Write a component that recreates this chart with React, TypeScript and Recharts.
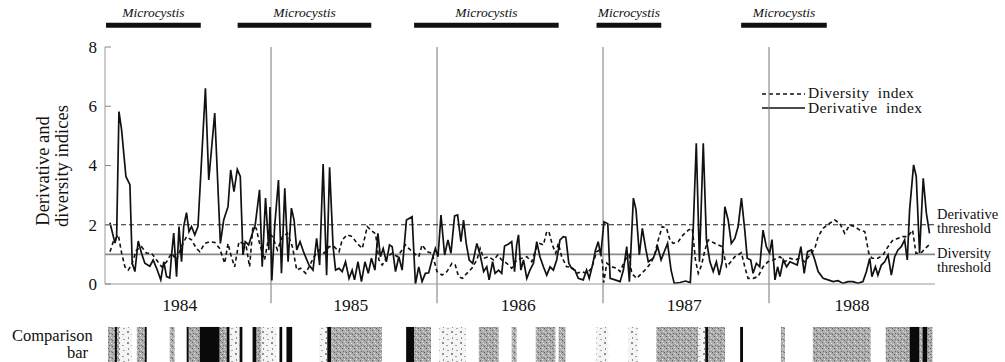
import React from 'react';
import { LineChart, Line, XAxis, YAxis, ReferenceLine, ReferenceArea } from 'recharts';

const yearLabels = ['1984', '1985', '1986', '1987', '1988'];
const yearTickPos = [0.45, 1.48, 2.49, 3.49, 4.5];
const yearBoundaries = [1, 2, 3, 4];
const yTicks = [0, 2, 4, 6, 8];
const derivThreshold = 2;
const divThreshold = 1;

const derivTime = [0.030,0.060,0.070,0.084,0.100,0.126,0.150,0.164,0.180,0.200,0.220,0.240,0.270,0.290,0.311,0.336,0.354,0.371,0.390,0.401,0.414,0.431,0.446,0.461,0.474,0.491,0.506,0.521,0.541,0.560,0.605,0.625,0.661,0.695,0.715,0.741,0.757,0.777,0.797,0.815,0.831,0.845,0.865,0.885,0.905,0.931,0.947,0.967,0.987,0.994,1.005,1.022,1.045,1.063,1.083,1.103,1.123,1.139,1.155,1.175,1.199,1.229,1.253,1.275,1.293,1.314,1.335,1.353,1.374,1.389,1.410,1.429,1.449,1.470,1.489,1.503,1.524,1.545,1.566,1.586,1.605,1.626,1.644,1.659,1.676,1.695,1.714,1.730,1.750,1.770,1.790,1.816,1.850,1.870,1.890,1.910,1.930,1.950,1.970,1.990,2.006,2.024,2.046,2.066,2.084,2.106,2.124,2.144,2.160,2.176,2.194,2.215,2.240,2.260,2.281,2.300,2.314,2.335,2.350,2.371,2.390,2.407,2.431,2.450,2.467,2.480,2.491,2.505,2.521,2.541,2.560,2.581,2.601,2.620,2.641,2.661,2.681,2.701,2.721,2.741,2.761,2.776,2.794,2.811,2.831,2.851,2.881,2.901,2.917,2.937,2.955,2.971,2.986,3.006,3.029,3.043,3.073,3.103,3.123,3.143,3.159,3.183,3.199,3.219,3.237,3.257,3.273,3.303,3.329,3.350,3.369,3.389,3.410,3.429,3.464,3.497,3.526,3.544,3.562,3.581,3.604,3.623,3.644,3.664,3.683,3.700,3.718,3.734,3.754,3.773,3.794,3.814,3.834,3.854,3.869,3.890,3.904,3.924,3.944,3.964,3.984,4.004,4.018,4.036,4.052,4.066,4.086,4.106,4.126,4.146,4.170,4.192,4.212,4.232,4.256,4.276,4.296,4.326,4.356,4.386,4.416,4.446,4.476,4.506,4.536,4.566,4.587,4.607,4.620,4.641,4.656,4.677,4.697,4.717,4.737,4.757,4.777,4.797,4.817,4.833,4.847,4.871,4.887,4.907,4.929,4.948,4.967];
const derivValue = [2.07,1.38,1.6,5.82,5.2,3.63,3.35,0.7,0.42,1.45,1.04,0.7,0.6,0.81,0.53,0.14,0.75,0.25,0.2,0.98,1.72,0.25,1.94,0.75,1.94,2.41,1.77,1.94,1.66,1.94,6.61,3.51,5.77,1.37,2.16,2.61,3.85,3.12,3.87,3.63,0.98,1.43,1.32,1.66,2.0,3.18,0.58,2.9,1.15,2.6,0.12,1.94,3.51,0.36,3.23,0.75,2.56,2.16,1.15,1.43,1.04,0.64,0.47,1.54,0.64,4.05,0.3,3.94,1.26,0.47,0.53,0.42,0.75,0.19,0.47,0.14,0.75,0.08,0.75,0.36,0.87,0.47,1.71,0.92,1.2,0.75,1.32,1.26,0.42,0.92,0.47,2.16,2.27,0.0,0.58,0.08,0.36,0.38,0.81,1.2,0.92,2.33,0.98,1.49,1.04,2.3,2.33,1.43,2.16,1.37,0.81,0.7,1.37,0.98,0.42,0.58,0.14,0.75,0.36,0.47,0.36,1.28,1.35,1.43,0.42,1.32,1.66,0.47,0.81,0.19,0.47,0.7,1.43,0.92,0.58,0.3,0.58,0.47,0.81,1.49,1.6,1.58,0.7,0.53,0.47,0.19,0.14,0.47,0.19,0.64,1.15,1.43,0.98,2.1,2.03,0.19,0.14,0.08,0.47,1.26,0.08,2.9,2.5,0.98,1.88,1.2,0.75,0.87,1.26,0.81,1.09,1.37,0.47,0.02,0.05,0.1,0.05,1.94,4.75,0.75,4.75,1.49,0.75,0.42,0.75,0.3,0.75,2.61,2.16,1.37,1.54,1.94,2.9,1.82,0.87,0.81,0.36,0.7,0.58,1.82,1.26,1.04,1.5,0.14,0.58,0.25,0.81,0.58,0.75,0.7,0.64,1.26,0.36,1.09,1.15,0.81,0.42,0.19,0.14,0.08,0.11,0.02,0.08,0.08,0.02,0.08,0.42,0.87,0.25,0.58,0.3,0.64,0.75,0.98,0.3,0.92,1.15,1.26,1.49,0.81,2.5,4.02,3.63,1.04,3.57,2.39,1.71];

const divTime = [0.030,0.050,0.080,0.100,0.120,0.140,0.160,0.190,0.220,0.250,0.280,0.311,0.341,0.371,0.401,0.431,0.461,0.491,0.521,0.551,0.571,0.601,0.631,0.661,0.691,0.721,0.741,0.761,0.781,0.807,0.831,0.851,0.871,0.891,0.911,0.931,0.961,0.991,1.009,1.039,1.069,1.099,1.129,1.155,1.179,1.209,1.229,1.259,1.289,1.320,1.350,1.380,1.410,1.429,1.459,1.489,1.519,1.550,1.580,1.600,1.630,1.650,1.670,1.700,1.730,1.760,1.790,1.810,1.830,1.860,1.890,1.910,1.940,1.970,2.000,2.030,2.060,2.090,2.110,2.130,2.154,2.180,2.210,2.240,2.260,2.281,2.311,2.341,2.366,2.390,2.420,2.450,2.480,2.511,2.541,2.571,2.601,2.620,2.641,2.661,2.674,2.695,2.715,2.731,2.751,2.781,2.811,2.841,2.871,2.901,2.931,2.961,2.982,2.997,3.004,3.023,3.053,3.083,3.103,3.133,3.157,3.173,3.203,3.233,3.263,3.293,3.313,3.333,3.357,3.383,3.403,3.423,3.453,3.483,3.514,3.538,3.557,3.574,3.594,3.614,3.634,3.664,3.694,3.718,3.744,3.770,3.794,3.814,3.834,3.854,3.874,3.904,3.934,3.964,3.994,4.024,4.066,4.096,4.126,4.156,4.186,4.216,4.246,4.276,4.296,4.326,4.366,4.396,4.426,4.456,4.486,4.516,4.546,4.577,4.601,4.620,4.656,4.687,4.717,4.747,4.777,4.807,4.835,4.865,4.885,4.915,4.941,4.965];
const divValue = [1.09,1.43,1.66,1.05,0.58,0.47,0.64,1.15,1.26,1.04,1.04,0.81,0.58,0.75,1.04,0.81,1.26,1.6,1.49,1.2,1.09,1.37,1.43,1.4,1.2,0.7,1.37,0.92,0.58,1.43,1.37,1.26,0.58,1.94,1.88,1.37,0.81,1.71,1.6,1.15,1.6,1.71,1.26,0.47,0.53,0.36,0.58,0.92,1.15,1.04,1.26,1.26,1.09,1.49,1.66,1.6,1.37,1.2,1.94,1.82,1.69,0.81,0.64,0.92,1.04,0.92,1.15,1.32,1.2,1.04,0.92,1.32,1.09,1.04,0.42,0.3,0.42,0.7,0.64,0.25,0.19,0.36,0.53,0.81,1.2,0.87,0.92,0.81,0.98,0.81,0.7,0.53,0.81,0.87,0.92,0.75,1.26,1.37,1.32,1.77,1.77,1.32,1.04,1.37,0.92,0.58,0.58,0.36,0.42,0.36,0.53,1.09,1.15,0.7,0.05,0.7,0.58,0.53,0.42,0.81,0.98,0.36,0.19,0.36,0.53,0.75,1.04,1.49,1.94,1.88,1.49,1.37,1.43,1.66,1.82,1.88,0.81,0.36,0.64,1.15,1.49,1.4,1.32,1.26,0.58,0.75,0.92,0.98,1.06,0.58,0.19,0.19,0.25,0.58,0.75,0.81,0.92,0.75,0.87,0.81,0.87,0.75,0.98,1.2,1.6,1.88,2.05,2.16,2.05,1.71,1.99,1.94,1.82,1.77,1.04,0.87,0.87,0.98,1.26,1.49,1.54,1.6,1.6,1.82,1.04,1.04,1.2,1.32];

const bloomStart = [0.006, 0.799, 1.862, 2.961, 3.832];
const bloomEnd = [0.577, 1.604, 2.733, 3.351, 4.348];
const bloomName = 'Microcystis';

const stripeBounds = [0.018,0.060,0.072,0.084,0.162,0.192,0.240,0.252,0.390,0.420,0.492,0.505,0.571,0.691,0.733,0.751,0.811,0.829,0.889,0.913,0.943,1.033,1.051,1.069,1.093,1.129,1.291,1.339,1.363,1.670,1.814,1.862,1.964,2.012,2.174,2.252,2.372,2.450,2.480,2.595,2.715,2.733,2.775,2.961,3.033,3.153,3.213,3.321,3.574,3.616,3.634,3.736,3.826,3.844,4.072,4.096,4.264,4.613,4.703,4.847,4.907,4.925,4.955,4.985];
const stripeKind = ['g','k','g','d','w','g','k','w','g','w','k','g','k','g','k','d','k','w','k','g','d','w','k','w','k','w','d','k','g','w','k','g','w','d','w','g','w','g','w','g','w','g','w','d','w','d','w','g','d','k','g','w','k','w','g','w','g','w','g','k','g','k','g'];

const derivData = derivTime.map((t, i) => ({ t, v: derivValue[i] }));
const divData = divTime.map((t, i) => ({ t, v: divValue[i] }));

const FONT = "'Liberation Serif', 'Times New Roman', serif";
const serif = { fontFamily: FONT };
const kindFill: Record<string, string> = { g: 'url(#stipple)', k: '#0a0a0a', w: '#ffffff', d: 'url(#dots)' };

const YTick = (props: any) => {
  const { x, y, payload } = props;
  return (
    <g>
      <text x={x - 8} y={y} dy="0.35em" textAnchor="end" fontSize={17} style={serif} fill="#111">
        {payload.value}
      </text>
      <line x1={x} x2={x + 6} y1={y} y2={y} stroke="#888" strokeWidth={1} />
    </g>
  );
};

const bloomLabel = (props: any) => {
  const vb = props.viewBox || {};
  return (
    <text x={vb.x + vb.width / 2} y={vb.y - 6} textAnchor="middle" fontSize={13.5} fontStyle="italic" style={serif} fill="#111">
      {bloomName}
    </text>
  );
};

const thresholdLabel = (l1: string, l2: string, d1: number, d2: number) => (props: any) => {
  const vb = props.viewBox || {};
  const x = vb.x + vb.width + 2;
  return (
    <g>
      <text x={x} y={vb.y + d1} fontSize={14.5} style={serif} fill="#111">{l1}</text>
      <text x={x} y={vb.y + d2} fontSize={14.5} style={serif} fill="#111">{l2}</text>
    </g>
  );
};

export default function App() {
  return (
    <div style={{ position: 'absolute', left: 0, top: 0, width: 1005, height: 362, background: '#fff' }}>
      <LineChart width={1005} height={362} margin={{ top: 47, right: 70, bottom: 48, left: 0 }}>
        <defs>
          <pattern id="stipple" width="6" height="6" patternUnits="userSpaceOnUse">
            <rect width="6" height="6" fill="#ababab" />
            <rect x="0" y="0" width="1" height="1" fill="#5f5f5f" />
            <rect x="3" y="1" width="1" height="1" fill="#e2e2e2" />
            <rect x="1" y="3" width="1" height="1" fill="#707070" />
            <rect x="4" y="4" width="1" height="1" fill="#5a5a5a" />
            <rect x="5" y="2" width="1" height="1" fill="#dadada" />
            <rect x="2" y="5" width="1" height="1" fill="#e6e6e6" />
            <rect x="3" y="3" width="1" height="1" fill="#8a8a8a" />
          </pattern>
          <pattern id="dots" width="9" height="11" patternUnits="userSpaceOnUse">
            <rect width="9" height="11" fill="#f4f4f4" />
            <rect x="1" y="1" width="2" height="2" fill="#8f8f8f" />
            <rect x="5" y="4" width="2" height="1" fill="#a0a0a0" />
            <rect x="2" y="7" width="1" height="2" fill="#909090" />
            <rect x="6" y="9" width="2" height="1" fill="#a8a8a8" />
          </pattern>
        </defs>
        <XAxis
          dataKey="t"
          type="number"
          domain={[0, 5]}
          allowDataOverflow
          ticks={yearTickPos}
          tickFormatter={(v: number) => yearLabels[Math.floor(v)]}
          tickLine={false}
          tickSize={0}
          tickMargin={15}
          height={30}
          axisLine={{ stroke: '#999', strokeWidth: 1 }}
          tick={{ fontSize: 17.5, fontFamily: FONT, fill: '#111' }}
        />
        <YAxis
          type="number"
          domain={[0, 8]}
          ticks={yTicks}
          width={105}
          tickLine={false}
          tickSize={0}
          tickMargin={0}
          axisLine={{ stroke: '#999', strokeWidth: 1 }}
          tick={<YTick />}
        />
        {yearBoundaries.map((b) => (
          <ReferenceLine
            key={'yb' + b}
            segment={[{ x: b, y: -0.65 }, { x: b, y: 8 }]}
            stroke="#777"
            strokeWidth={1}
            ifOverflow="visible"
          />
        ))}
        <ReferenceLine
          y={derivThreshold}
          stroke="#222"
          strokeWidth={1}
          strokeDasharray="5 3"
          label={thresholdLabel('Derivative', 'threshold', -6, 8)}
        />
        <ReferenceLine
          y={divThreshold}
          stroke="#8a8a8a"
          strokeWidth={1.6}
          label={thresholdLabel('Diversity', 'threshold', 4, 18)}
        />
        {bloomStart.map((s, i) => (
          <ReferenceArea
            key={'bl' + i}
            x1={s}
            x2={bloomEnd[i]}
            y1={8.65}
            y2={8.82}
            fill="#111"
            fillOpacity={1}
            ifOverflow="visible"
            label={bloomLabel}
          />
        ))}
        {stripeKind.map((k, i) => (
          <ReferenceArea
            key={'st' + i}
            x1={stripeBounds[i]}
            x2={stripeBounds[i + 1]}
            y1={-2.64}
            y2={-1.45}
            fill={kindFill[k]}
            fillOpacity={1}
            stroke="none"
            ifOverflow="visible"
          />
        ))}
        <Line
          data={divData}
          dataKey="v"
          type="linear"
          stroke="#111"
          strokeWidth={1.6}
          strokeDasharray="4 3"
          dot={false}
          isAnimationActive={false}
        />
        <Line
          data={derivData}
          dataKey="v"
          type="linear"
          stroke="#111"
          strokeWidth={1.7}
          dot={false}
          isAnimationActive={false}
        />
        <g>
          <line x1={762} x2={805} y1={94} y2={94} stroke="#111" strokeWidth={1.4} strokeDasharray="4 3" />
          <text x={808} y={98} fontSize={15.5} letterSpacing={0.4} style={serif} fill="#111">{'Diversity\u00a0 index'}</text>
          <line x1={762} x2={805} y1={108} y2={108} stroke="#111" strokeWidth={1.6} />
          <text x={808} y={113} fontSize={15.5} letterSpacing={0.4} style={serif} fill="#111">{'Derivative\u00a0 index'}</text>
        </g>
        <g>
          <text transform="translate(49,171) rotate(-90)" textAnchor="middle" fontSize={18.5} style={serif} fill="#111">Derivative and</text>
          <text transform="translate(68,166) rotate(-90)" textAnchor="middle" fontSize={18.5} style={serif} fill="#111">diversity indices</text>
        </g>
        <g>
          <text x={12} y={341} fontSize={16.5} style={serif} fill="#111">Comparison</text>
          <text x={67} y={358} fontSize={16.5} style={serif} fill="#111">bar</text>
        </g>
      </LineChart>
    </div>
  );
}
